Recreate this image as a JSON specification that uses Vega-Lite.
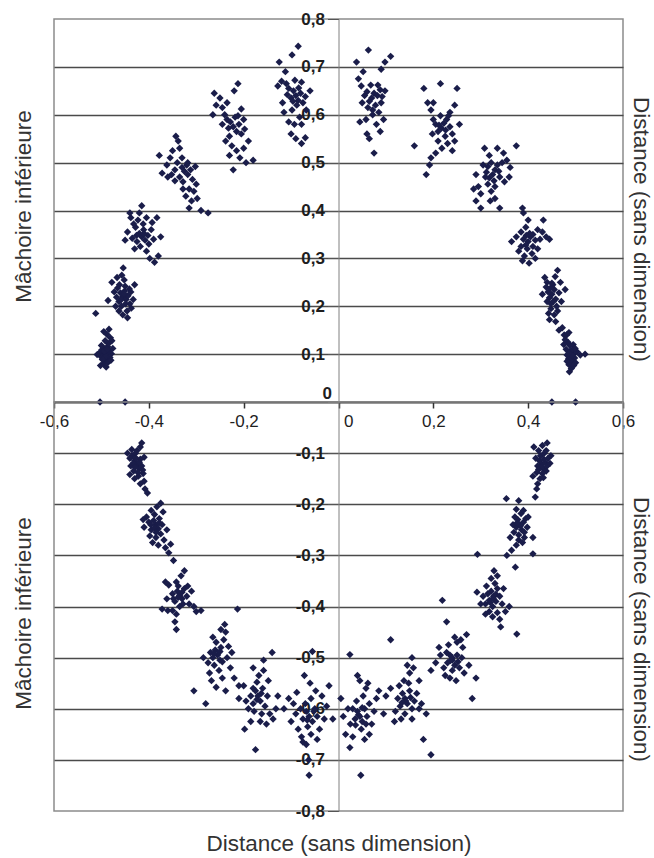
{
"$schema": "https://vega.github.io/schema/vega-lite/v6.json",
"background": "white",
"padding": {"left": 11, "top": 9, "right": 0, "bottom": 0},
"config": {
  "font": "Liberation Sans",
  "view": {"stroke": "#8c8c8c", "strokeWidth": 1.5},
  "axis": {"labelFont": "Liberation Sans", "titleFont": "Liberation Sans", "labelColor": "#1e1e1e", "titleColor": "#333333", "titleFontWeight": "normal", "titleFontSize": 22.5, "labelFontSize": 17, "labelFlush": false, "labelOverlap": false}
},
"datasets": {
"upper": [
{"x":-0.497,"y":0.100},{"x":-0.492,"y":0.104},{"x":-0.486,"y":0.098},{"x":-0.501,"y":0.095},{"x":-0.483,"y":0.108},{"x":-0.495,"y":0.112},{"x":-0.489,"y":0.091},{"x":-0.504,"y":0.103},{"x":-0.479,"y":0.101},{"x":-0.493,"y":0.086},{"x":-0.487,"y":0.116},{"x":-0.499,"y":0.109},{"x":-0.482,"y":0.093},{"x":-0.496,"y":0.080},{"x":-0.490,"y":0.073},{"x":-0.485,"y":0.122},{"x":-0.492,"y":0.128},{"x":-0.481,"y":0.134},{"x":-0.488,"y":0.141},{"x":-0.495,"y":0.147},{"x":-0.484,"y":0.152},{"x":-0.509,"y":0.099},{"x":-0.476,"y":0.112},{"x":-0.500,"y":0.118},{"x":-0.491,"y":0.095},{"x":-0.486,"y":0.083},{"x":-0.498,"y":0.089},{"x":-0.480,"y":0.087},{"x":-0.494,"y":0.106},{"x":-0.488,"y":0.110},{"x":-0.512,"y":0.185},{"x":-0.478,"y":0.128},{"x":-0.502,"y":0.076},
{"x":-0.455,"y":0.220},{"x":-0.460,"y":0.228},{"x":-0.448,"y":0.214},{"x":-0.463,"y":0.210},{"x":-0.451,"y":0.232},{"x":-0.444,"y":0.222},{"x":-0.458,"y":0.200},{"x":-0.468,"y":0.219},{"x":-0.450,"y":0.242},{"x":-0.440,"y":0.205},{"x":-0.462,"y":0.245},{"x":-0.473,"y":0.230},{"x":-0.446,"y":0.190},{"x":-0.455,"y":0.182},{"x":-0.437,"y":0.196},{"x":-0.452,"y":0.255},{"x":-0.457,"y":0.265},{"x":-0.454,"y":0.280},{"x":-0.478,"y":0.250},{"x":-0.470,"y":0.200},{"x":-0.433,"y":0.214},{"x":-0.441,"y":0.236},{"x":-0.466,"y":0.238},{"x":-0.449,"y":0.205},{"x":-0.459,"y":0.213},{"x":-0.445,"y":0.176},{"x":-0.430,"y":0.245},{"x":-0.486,"y":0.212},{"x":-0.463,"y":0.190},{"x":-0.452,"y":0.226},{"x":-0.438,"y":0.230},{"x":-0.467,"y":0.260},
{"x":-0.415,"y":0.345},{"x":-0.420,"y":0.352},{"x":-0.408,"y":0.338},{"x":-0.425,"y":0.335},{"x":-0.411,"y":0.360},{"x":-0.402,"y":0.348},{"x":-0.428,"y":0.365},{"x":-0.418,"y":0.325},{"x":-0.435,"y":0.342},{"x":-0.400,"y":0.330},{"x":-0.412,"y":0.372},{"x":-0.423,"y":0.380},{"x":-0.438,"y":0.385},{"x":-0.445,"y":0.355},{"x":-0.395,"y":0.360},{"x":-0.390,"y":0.340},{"x":-0.405,"y":0.315},{"x":-0.398,"y":0.300},{"x":-0.388,"y":0.292},{"x":-0.380,"y":0.305},{"x":-0.430,"y":0.320},{"x":-0.440,"y":0.395},{"x":-0.420,"y":0.395},{"x":-0.405,"y":0.385},{"x":-0.450,"y":0.338},{"x":-0.375,"y":0.345},{"x":-0.415,"y":0.410},{"x":-0.410,"y":0.352},{"x":-0.426,"y":0.348},{"x":-0.432,"y":0.372},{"x":-0.393,"y":0.375},{"x":-0.383,"y":0.385},
{"x":-0.325,"y":0.482},{"x":-0.330,"y":0.490},{"x":-0.318,"y":0.475},{"x":-0.335,"y":0.470},{"x":-0.320,"y":0.495},{"x":-0.312,"y":0.485},{"x":-0.340,"y":0.500},{"x":-0.328,"y":0.460},{"x":-0.345,"y":0.485},{"x":-0.308,"y":0.465},{"x":-0.355,"y":0.510},{"x":-0.350,"y":0.525},{"x":-0.335,"y":0.530},{"x":-0.362,"y":0.495},{"x":-0.372,"y":0.478},{"x":-0.360,"y":0.470},{"x":-0.315,"y":0.445},{"x":-0.305,"y":0.440},{"x":-0.298,"y":0.425},{"x":-0.310,"y":0.420},{"x":-0.322,"y":0.430},{"x":-0.300,"y":0.455},{"x":-0.290,"y":0.400},{"x":-0.315,"y":0.405},{"x":-0.275,"y":0.395},{"x":-0.338,"y":0.545},{"x":-0.343,"y":0.555},{"x":-0.378,"y":0.515},{"x":-0.330,"y":0.510},{"x":-0.318,"y":0.500},{"x":-0.302,"y":0.492},{"x":-0.345,"y":0.462},{"x":-0.328,"y":0.445},{"x":-0.352,"y":0.475},
{"x":-0.222,"y":0.575},{"x":-0.228,"y":0.585},{"x":-0.215,"y":0.565},{"x":-0.235,"y":0.590},{"x":-0.210,"y":0.580},{"x":-0.240,"y":0.600},{"x":-0.218,"y":0.595},{"x":-0.205,"y":0.560},{"x":-0.230,"y":0.555},{"x":-0.245,"y":0.615},{"x":-0.250,"y":0.635},{"x":-0.262,"y":0.645},{"x":-0.258,"y":0.620},{"x":-0.235,"y":0.625},{"x":-0.220,"y":0.650},{"x":-0.212,"y":0.665},{"x":-0.200,"y":0.590},{"x":-0.198,"y":0.570},{"x":-0.225,"y":0.535},{"x":-0.215,"y":0.525},{"x":-0.208,"y":0.510},{"x":-0.230,"y":0.515},{"x":-0.190,"y":0.545},{"x":-0.200,"y":0.530},{"x":-0.180,"y":0.505},{"x":-0.222,"y":0.485},{"x":-0.195,"y":0.500},{"x":-0.245,"y":0.580},{"x":-0.265,"y":0.600},{"x":-0.232,"y":0.572},{"x":-0.212,"y":0.598},{"x":-0.205,"y":0.612},{"x":-0.238,"y":0.545},
{"x":-0.090,"y":0.640},{"x":-0.095,"y":0.650},{"x":-0.085,"y":0.630},{"x":-0.100,"y":0.635},{"x":-0.080,"y":0.645},{"x":-0.105,"y":0.655},{"x":-0.088,"y":0.620},{"x":-0.075,"y":0.625},{"x":-0.098,"y":0.610},{"x":-0.110,"y":0.665},{"x":-0.120,"y":0.670},{"x":-0.128,"y":0.660},{"x":-0.092,"y":0.672},{"x":-0.078,"y":0.668},{"x":-0.070,"y":0.638},{"x":-0.068,"y":0.610},{"x":-0.082,"y":0.595},{"x":-0.093,"y":0.580},{"x":-0.078,"y":0.580},{"x":-0.105,"y":0.585},{"x":-0.115,"y":0.605},{"x":-0.118,"y":0.625},{"x":-0.100,"y":0.560},{"x":-0.090,"y":0.550},{"x":-0.078,"y":0.540},{"x":-0.070,"y":0.552},{"x":-0.112,"y":0.690},{"x":-0.125,"y":0.710},{"x":-0.098,"y":0.725},{"x":-0.085,"y":0.743},{"x":-0.060,"y":0.650},{"x":-0.084,"y":0.656},{"x":-0.096,"y":0.628},{"x":-0.108,"y":0.642},
{"x":0.070,"y":0.635},{"x":0.075,"y":0.645},{"x":0.065,"y":0.628},{"x":0.082,"y":0.640},{"x":0.060,"y":0.648},{"x":0.088,"y":0.652},{"x":0.055,"y":0.640},{"x":0.078,"y":0.620},{"x":0.062,"y":0.615},{"x":0.048,"y":0.660},{"x":0.042,"y":0.675},{"x":0.052,"y":0.690},{"x":0.068,"y":0.662},{"x":0.090,"y":0.625},{"x":0.098,"y":0.650},{"x":0.085,"y":0.605},{"x":0.072,"y":0.600},{"x":0.058,"y":0.590},{"x":0.045,"y":0.585},{"x":0.080,"y":0.580},{"x":0.095,"y":0.590},{"x":0.060,"y":0.560},{"x":0.065,"y":0.550},{"x":0.088,"y":0.565},{"x":0.075,"y":0.520},{"x":0.038,"y":0.710},{"x":0.090,"y":0.695},{"x":0.098,"y":0.710},{"x":0.110,"y":0.722},{"x":0.063,"y":0.735},{"x":0.050,"y":0.625},{"x":0.083,"y":0.662},{"x":0.072,"y":0.610},{"x":0.092,"y":0.638},
{"x":0.217,"y":0.572},{"x":0.222,"y":0.582},{"x":0.210,"y":0.565},{"x":0.228,"y":0.590},{"x":0.205,"y":0.580},{"x":0.235,"y":0.575},{"x":0.215,"y":0.598},{"x":0.225,"y":0.555},{"x":0.200,"y":0.590},{"x":0.240,"y":0.560},{"x":0.195,"y":0.610},{"x":0.188,"y":0.625},{"x":0.180,"y":0.655},{"x":0.215,"y":0.665},{"x":0.250,"y":0.655},{"x":0.245,"y":0.620},{"x":0.235,"y":0.605},{"x":0.255,"y":0.580},{"x":0.210,"y":0.545},{"x":0.218,"y":0.530},{"x":0.205,"y":0.520},{"x":0.195,"y":0.510},{"x":0.192,"y":0.495},{"x":0.185,"y":0.475},{"x":0.230,"y":0.540},{"x":0.245,"y":0.545},{"x":0.240,"y":0.525},{"x":0.160,"y":0.535},{"x":0.200,"y":0.625},{"x":0.212,"y":0.578},{"x":0.226,"y":0.568},{"x":0.198,"y":0.560},{"x":0.232,"y":0.598},
{"x":0.325,"y":0.475},{"x":0.330,"y":0.485},{"x":0.318,"y":0.468},{"x":0.335,"y":0.495},{"x":0.312,"y":0.480},{"x":0.340,"y":0.470},{"x":0.322,"y":0.500},{"x":0.315,"y":0.455},{"x":0.305,"y":0.495},{"x":0.345,"y":0.500},{"x":0.318,"y":0.515},{"x":0.308,"y":0.530},{"x":0.335,"y":0.530},{"x":0.348,"y":0.520},{"x":0.355,"y":0.505},{"x":0.362,"y":0.490},{"x":0.375,"y":0.535},{"x":0.330,"y":0.450},{"x":0.322,"y":0.440},{"x":0.330,"y":0.425},{"x":0.320,"y":0.420},{"x":0.340,"y":0.405},{"x":0.300,"y":0.435},{"x":0.295,"y":0.450},{"x":0.285,"y":0.445},{"x":0.300,"y":0.405},{"x":0.290,"y":0.420},{"x":0.350,"y":0.460},{"x":0.360,"y":0.470},{"x":0.310,"y":0.470},{"x":0.328,"y":0.462},{"x":0.338,"y":0.482},{"x":0.315,"y":0.492},{"x":0.290,"y":0.475},
{"x":0.400,"y":0.335},{"x":0.405,"y":0.345},{"x":0.395,"y":0.328},{"x":0.410,"y":0.350},{"x":0.390,"y":0.340},{"x":0.415,"y":0.338},{"x":0.398,"y":0.320},{"x":0.408,"y":0.310},{"x":0.392,"y":0.305},{"x":0.388,"y":0.295},{"x":0.402,"y":0.290},{"x":0.385,"y":0.355},{"x":0.395,"y":0.365},{"x":0.400,"y":0.380},{"x":0.390,"y":0.395},{"x":0.388,"y":0.405},{"x":0.420,"y":0.360},{"x":0.430,"y":0.355},{"x":0.438,"y":0.345},{"x":0.445,"y":0.340},{"x":0.432,"y":0.380},{"x":0.420,"y":0.320},{"x":0.380,"y":0.315},{"x":0.375,"y":0.345},{"x":0.365,"y":0.335},{"x":0.410,"y":0.325},{"x":0.403,"y":0.352},{"x":0.385,"y":0.325},{"x":0.415,"y":0.300},{"x":0.396,"y":0.348},{"x":0.425,"y":0.340},
{"x":0.450,"y":0.225},{"x":0.455,"y":0.235},{"x":0.445,"y":0.218},{"x":0.458,"y":0.215},{"x":0.442,"y":0.230},{"x":0.452,"y":0.245},{"x":0.448,"y":0.205},{"x":0.460,"y":0.200},{"x":0.440,"y":0.250},{"x":0.435,"y":0.260},{"x":0.438,"y":0.240},{"x":0.465,"y":0.228},{"x":0.470,"y":0.210},{"x":0.462,"y":0.190},{"x":0.455,"y":0.182},{"x":0.448,"y":0.195},{"x":0.445,"y":0.172},{"x":0.440,"y":0.210},{"x":0.430,"y":0.225},{"x":0.457,"y":0.262},{"x":0.462,"y":0.275},{"x":0.478,"y":0.235},{"x":0.453,"y":0.210},{"x":0.447,"y":0.238},{"x":0.468,"y":0.250},{"x":0.443,"y":0.185},{"x":0.458,"y":0.168},{"x":0.472,"y":0.155},{"x":0.476,"y":0.140},{"x":0.465,"y":0.150},{"x":0.450,"y":0.248},
{"x":0.490,"y":0.095},{"x":0.495,"y":0.100},{"x":0.485,"y":0.090},{"x":0.492,"y":0.085},{"x":0.498,"y":0.092},{"x":0.488,"y":0.105},{"x":0.482,"y":0.098},{"x":0.494,"y":0.110},{"x":0.486,"y":0.078},{"x":0.491,"y":0.070},{"x":0.500,"y":0.082},{"x":0.480,"y":0.110},{"x":0.488,"y":0.118},{"x":0.484,"y":0.125},{"x":0.478,"y":0.130},{"x":0.495,"y":0.120},{"x":0.503,"y":0.105},{"x":0.487,"y":0.063},{"x":0.510,"y":0.098},{"x":0.520,"y":0.100},{"x":0.475,"y":0.120},{"x":0.490,"y":0.088},{"x":0.496,"y":0.076},{"x":0.482,"y":0.085},{"x":0.493,"y":0.097},{"x":0.486,"y":0.102},{"x":0.499,"y":0.112},{"x":0.481,"y":0.140},{"x":0.486,"y":0.145},
{"x":-0.503,"y":0},{"x":-0.450,"y":0},{"x":0.450,"y":0},{"x":0.500,"y":0}
],
"lower": [
{"x":-0.425,"y":-0.123},{"x":-0.430,"y":-0.115},{"x":-0.420,"y":-0.130},{"x":-0.435,"y":-0.105},{"x":-0.428,"y":-0.100},{"x":-0.440,"y":-0.110},{"x":-0.418,"y":-0.112},{"x":-0.432,"y":-0.135},{"x":-0.422,"y":-0.145},{"x":-0.415,"y":-0.125},{"x":-0.412,"y":-0.140},{"x":-0.438,"y":-0.125},{"x":-0.445,"y":-0.100},{"x":-0.425,"y":-0.095},{"x":-0.418,"y":-0.088},{"x":-0.415,"y":-0.080},{"x":-0.410,"y":-0.155},{"x":-0.418,"y":-0.160},{"x":-0.408,"y":-0.170},{"x":-0.403,"y":-0.178},{"x":-0.430,"y":-0.150},{"x":-0.440,"y":-0.142},{"x":-0.427,"y":-0.110},{"x":-0.420,"y":-0.118},{"x":-0.433,"y":-0.120},{"x":-0.410,"y":-0.108},{"x":-0.436,"y":-0.093},{"x":-0.423,"y":-0.138},{"x":-0.413,"y":-0.133},{"x":-0.429,"y":-0.128},
{"x":-0.385,"y":-0.240},{"x":-0.390,"y":-0.232},{"x":-0.380,"y":-0.248},{"x":-0.395,"y":-0.250},{"x":-0.378,"y":-0.228},{"x":-0.400,"y":-0.235},{"x":-0.388,"y":-0.220},{"x":-0.372,"y":-0.240},{"x":-0.405,"y":-0.225},{"x":-0.398,"y":-0.262},{"x":-0.385,"y":-0.265},{"x":-0.375,"y":-0.258},{"x":-0.392,"y":-0.275},{"x":-0.380,"y":-0.280},{"x":-0.368,"y":-0.270},{"x":-0.410,"y":-0.245},{"x":-0.395,"y":-0.212},{"x":-0.383,"y":-0.205},{"x":-0.370,"y":-0.215},{"x":-0.362,"y":-0.250},{"x":-0.365,"y":-0.285},{"x":-0.358,"y":-0.295},{"x":-0.348,"y":-0.310},{"x":-0.375,"y":-0.198},{"x":-0.412,"y":-0.230},{"x":-0.388,"y":-0.246},{"x":-0.378,"y":-0.236},{"x":-0.396,"y":-0.240},{"x":-0.354,"y":-0.278},{"x":-0.385,"y":-0.255},
{"x":-0.335,"y":-0.378},{"x":-0.340,"y":-0.370},{"x":-0.330,"y":-0.385},{"x":-0.345,"y":-0.390},{"x":-0.325,"y":-0.365},{"x":-0.338,"y":-0.360},{"x":-0.350,"y":-0.375},{"x":-0.328,"y":-0.395},{"x":-0.320,"y":-0.380},{"x":-0.342,"y":-0.352},{"x":-0.332,"y":-0.340},{"x":-0.325,"y":-0.330},{"x":-0.358,"y":-0.358},{"x":-0.365,"y":-0.352},{"x":-0.362,"y":-0.385},{"x":-0.372,"y":-0.405},{"x":-0.360,"y":-0.408},{"x":-0.350,"y":-0.408},{"x":-0.342,"y":-0.415},{"x":-0.345,"y":-0.430},{"x":-0.342,"y":-0.445},{"x":-0.315,"y":-0.395},{"x":-0.310,"y":-0.370},{"x":-0.305,"y":-0.400},{"x":-0.300,"y":-0.410},{"x":-0.290,"y":-0.408},{"x":-0.318,"y":-0.360},{"x":-0.335,"y":-0.400},{"x":-0.348,"y":-0.385},{"x":-0.213,"y":-0.405},{"x":-0.330,"y":-0.372},{"x":-0.338,"y":-0.382},
{"x":-0.255,"y":-0.495},{"x":-0.260,"y":-0.485},{"x":-0.250,"y":-0.505},{"x":-0.265,"y":-0.500},{"x":-0.248,"y":-0.480},{"x":-0.258,"y":-0.470},{"x":-0.242,"y":-0.465},{"x":-0.262,"y":-0.515},{"x":-0.270,"y":-0.490},{"x":-0.252,"y":-0.525},{"x":-0.245,"y":-0.540},{"x":-0.238,"y":-0.450},{"x":-0.248,"y":-0.445},{"x":-0.240,"y":-0.435},{"x":-0.275,"y":-0.510},{"x":-0.272,"y":-0.530},{"x":-0.268,"y":-0.545},{"x":-0.235,"y":-0.500},{"x":-0.228,"y":-0.520},{"x":-0.225,"y":-0.490},{"x":-0.220,"y":-0.540},{"x":-0.210,"y":-0.555},{"x":-0.285,"y":-0.500},{"x":-0.305,"y":-0.565},{"x":-0.280,"y":-0.590},{"x":-0.258,"y":-0.558},{"x":-0.238,"y":-0.565},{"x":-0.262,"y":-0.492},{"x":-0.250,"y":-0.488},{"x":-0.245,"y":-0.508},{"x":-0.232,"y":-0.478},{"x":-0.265,"y":-0.460},
{"x":-0.170,"y":-0.575},{"x":-0.175,"y":-0.565},{"x":-0.165,"y":-0.585},{"x":-0.180,"y":-0.590},{"x":-0.160,"y":-0.560},{"x":-0.172,"y":-0.548},{"x":-0.185,"y":-0.575},{"x":-0.155,"y":-0.595},{"x":-0.178,"y":-0.605},{"x":-0.162,"y":-0.610},{"x":-0.190,"y":-0.600},{"x":-0.195,"y":-0.585},{"x":-0.200,"y":-0.555},{"x":-0.168,"y":-0.535},{"x":-0.158,"y":-0.525},{"x":-0.150,"y":-0.575},{"x":-0.145,"y":-0.610},{"x":-0.138,"y":-0.620},{"x":-0.152,"y":-0.630},{"x":-0.165,"y":-0.625},{"x":-0.185,"y":-0.625},{"x":-0.198,"y":-0.640},{"x":-0.175,"y":-0.680},{"x":-0.132,"y":-0.600},{"x":-0.128,"y":-0.575},{"x":-0.180,"y":-0.520},{"x":-0.148,"y":-0.545},{"x":-0.140,"y":-0.490},{"x":-0.158,"y":-0.505},{"x":-0.210,"y":-0.580},{"x":-0.172,"y":-0.582},{"x":-0.163,"y":-0.570},{"x":-0.180,"y":-0.560},
{"x":-0.062,"y":-0.615},{"x":-0.068,"y":-0.605},{"x":-0.055,"y":-0.625},{"x":-0.075,"y":-0.620},{"x":-0.050,"y":-0.600},{"x":-0.065,"y":-0.635},{"x":-0.080,"y":-0.600},{"x":-0.045,"y":-0.615},{"x":-0.070,"y":-0.590},{"x":-0.058,"y":-0.580},{"x":-0.090,"y":-0.610},{"x":-0.095,"y":-0.590},{"x":-0.100,"y":-0.625},{"x":-0.085,"y":-0.640},{"x":-0.040,"y":-0.640},{"x":-0.030,"y":-0.620},{"x":-0.025,"y":-0.595},{"x":-0.035,"y":-0.575},{"x":-0.048,"y":-0.565},{"x":-0.060,"y":-0.550},{"x":-0.072,"y":-0.535},{"x":-0.105,"y":-0.580},{"x":-0.115,"y":-0.600},{"x":-0.078,"y":-0.655},{"x":-0.058,"y":-0.650},{"x":-0.045,"y":-0.660},{"x":-0.068,"y":-0.670},{"x":-0.075,"y":-0.665},{"x":-0.063,"y":-0.700},{"x":-0.062,"y":-0.730},{"x":-0.055,"y":-0.488},{"x":-0.012,"y":-0.620},{"x":-0.020,"y":-0.555},{"x":-0.088,"y":-0.568},{"x":-0.052,"y":-0.605},{"x":-0.066,"y":-0.622},
{"x":0.045,"y":-0.615},{"x":0.040,"y":-0.605},{"x":0.050,"y":-0.625},{"x":0.035,"y":-0.620},{"x":0.055,"y":-0.600},{"x":0.030,"y":-0.600},{"x":0.048,"y":-0.640},{"x":0.060,"y":-0.615},{"x":0.025,"y":-0.630},{"x":0.038,"y":-0.585},{"x":0.052,"y":-0.575},{"x":0.065,"y":-0.590},{"x":0.070,"y":-0.630},{"x":0.075,"y":-0.605},{"x":0.080,"y":-0.580},{"x":0.058,"y":-0.560},{"x":0.045,"y":-0.545},{"x":0.062,"y":-0.550},{"x":0.040,"y":-0.535},{"x":0.020,"y":-0.600},{"x":0.010,"y":-0.615},{"x":0.005,"y":-0.580},{"x":0.015,"y":-0.650},{"x":0.030,"y":-0.655},{"x":0.055,"y":-0.660},{"x":0.065,"y":-0.650},{"x":0.024,"y":-0.676},{"x":0.047,"y":-0.730},{"x":0.024,"y":-0.494},{"x":0.085,"y":-0.565},{"x":0.042,"y":-0.612},{"x":0.050,"y":-0.598},{"x":0.036,"y":-0.632},{"x":0.058,"y":-0.630},
{"x":0.140,"y":-0.580},{"x":0.135,"y":-0.570},{"x":0.145,"y":-0.590},{"x":0.130,"y":-0.595},{"x":0.150,"y":-0.565},{"x":0.125,"y":-0.580},{"x":0.155,"y":-0.600},{"x":0.140,"y":-0.610},{"x":0.120,"y":-0.605},{"x":0.160,"y":-0.585},{"x":0.165,"y":-0.570},{"x":0.170,"y":-0.600},{"x":0.175,"y":-0.590},{"x":0.148,"y":-0.550},{"x":0.138,"y":-0.545},{"x":0.128,"y":-0.555},{"x":0.110,"y":-0.560},{"x":0.100,"y":-0.575},{"x":0.118,"y":-0.625},{"x":0.132,"y":-0.620},{"x":0.155,"y":-0.620},{"x":0.150,"y":-0.530},{"x":0.145,"y":-0.515},{"x":0.155,"y":-0.500},{"x":0.110,"y":-0.465},{"x":0.158,"y":-0.520},{"x":0.170,"y":-0.545},{"x":0.179,"y":-0.660},{"x":0.195,"y":-0.690},{"x":0.185,"y":-0.610},{"x":0.095,"y":-0.610},{"x":0.142,"y":-0.585},{"x":0.134,"y":-0.588},{"x":0.152,"y":-0.578},
{"x":0.240,"y":-0.505},{"x":0.235,"y":-0.495},{"x":0.245,"y":-0.515},{"x":0.230,"y":-0.510},{"x":0.250,"y":-0.495},{"x":0.228,"y":-0.490},{"x":0.255,"y":-0.520},{"x":0.240,"y":-0.525},{"x":0.222,"y":-0.520},{"x":0.260,"y":-0.500},{"x":0.262,"y":-0.480},{"x":0.250,"y":-0.470},{"x":0.258,"y":-0.465},{"x":0.245,"y":-0.460},{"x":0.232,"y":-0.475},{"x":0.215,"y":-0.495},{"x":0.205,"y":-0.510},{"x":0.212,"y":-0.480},{"x":0.225,"y":-0.535},{"x":0.235,"y":-0.540},{"x":0.248,"y":-0.545},{"x":0.265,"y":-0.530},{"x":0.275,"y":-0.515},{"x":0.282,"y":-0.580},{"x":0.290,"y":-0.540},{"x":0.195,"y":-0.525},{"x":0.270,"y":-0.455},{"x":0.240,"y":-0.500},{"x":0.236,"y":-0.506},{"x":0.252,"y":-0.508},{"x":0.228,"y":-0.430},
{"x":0.327,"y":-0.380},{"x":0.322,"y":-0.370},{"x":0.332,"y":-0.390},{"x":0.318,"y":-0.388},{"x":0.335,"y":-0.365},{"x":0.315,"y":-0.375},{"x":0.340,"y":-0.380},{"x":0.325,"y":-0.400},{"x":0.310,"y":-0.395},{"x":0.345,"y":-0.395},{"x":0.330,"y":-0.355},{"x":0.322,"y":-0.345},{"x":0.335,"y":-0.340},{"x":0.328,"y":-0.330},{"x":0.312,"y":-0.360},{"x":0.305,"y":-0.380},{"x":0.300,"y":-0.395},{"x":0.318,"y":-0.410},{"x":0.335,"y":-0.412},{"x":0.348,"y":-0.365},{"x":0.352,"y":-0.410},{"x":0.340,"y":-0.425},{"x":0.325,"y":-0.420},{"x":0.310,"y":-0.415},{"x":0.292,"y":-0.372},{"x":0.360,"y":-0.400},{"x":0.376,"y":-0.454},{"x":0.293,"y":-0.298},{"x":0.219,"y":-0.388},{"x":0.342,"y":-0.440},{"x":0.326,"y":-0.384},{"x":0.332,"y":-0.376},{"x":0.320,"y":-0.392},
{"x":0.382,"y":-0.240},{"x":0.378,"y":-0.230},{"x":0.386,"y":-0.250},{"x":0.375,"y":-0.245},{"x":0.390,"y":-0.235},{"x":0.372,"y":-0.225},{"x":0.392,"y":-0.255},{"x":0.380,"y":-0.260},{"x":0.370,"y":-0.255},{"x":0.395,"y":-0.228},{"x":0.385,"y":-0.218},{"x":0.375,"y":-0.210},{"x":0.390,"y":-0.212},{"x":0.400,"y":-0.225},{"x":0.380,"y":-0.270},{"x":0.388,"y":-0.275},{"x":0.375,"y":-0.280},{"x":0.392,"y":-0.265},{"x":0.368,"y":-0.240},{"x":0.362,"y":-0.265},{"x":0.354,"y":-0.189},{"x":0.380,"y":-0.193},{"x":0.373,"y":-0.323},{"x":0.410,"y":-0.297},{"x":0.410,"y":-0.265},{"x":0.398,"y":-0.245},{"x":0.384,"y":-0.242},{"x":0.377,"y":-0.236},{"x":0.365,"y":-0.290},{"x":0.355,"y":-0.300},
{"x":0.428,"y":-0.122},{"x":0.424,"y":-0.115},{"x":0.432,"y":-0.130},{"x":0.420,"y":-0.125},{"x":0.436,"y":-0.118},{"x":0.426,"y":-0.105},{"x":0.438,"y":-0.135},{"x":0.430,"y":-0.140},{"x":0.418,"y":-0.138},{"x":0.442,"y":-0.110},{"x":0.434,"y":-0.100},{"x":0.422,"y":-0.095},{"x":0.416,"y":-0.110},{"x":0.440,"y":-0.125},{"x":0.446,"y":-0.120},{"x":0.425,"y":-0.150},{"x":0.420,"y":-0.160},{"x":0.432,"y":-0.148},{"x":0.412,"y":-0.088},{"x":0.430,"y":-0.085},{"x":0.440,"y":-0.080},{"x":0.418,"y":-0.170},{"x":0.415,"y":-0.186},{"x":0.410,"y":-0.145},{"x":0.448,"y":-0.105},{"x":0.427,"y":-0.128},{"x":0.433,"y":-0.112},{"x":0.422,"y":-0.132},{"x":0.438,"y":-0.095}
]
},
"spacing": 0,
"bounds": "flush",
"vconcat": [
{
  "width": 569,
  "height": 383,
  "layer": [
    {
      "data": {"name": "upper"},
      "mark": {"type": "point", "shape": "diamond", "filled": true, "size": 54, "color": "#1a1d4a", "opacity": 1},
      "encoding": {
        "x": {"field": "x", "type": "quantitative", "scale": {"domain": [-0.6, 0.6], "nice": false, "zero": false},
          "axis": {"orient": "bottom", "values": [-0.6, -0.4, -0.2, 0, 0.2, 0.4, 0.6], "grid": false, "title": null,
            "domainColor": "#333333", "domainWidth": 2, "tickColor": "#333333", "tickWidth": 1.5, "tickSize": 6, "labelPadding": 5,
            "labelExpr": "datum.value == 0 ? '0' : replace(replace(format(datum.value, '.1f'), '.', ','), '−', '-')",
            "labelAlign": {"condition": {"test": "datum.value == 0", "value": "left"}, "value": "center"},
            "labelOffset": {"condition": {"test": "datum.value == 0", "value": 5}, "value": 0}}},
        "y": {"field": "y", "type": "quantitative", "scale": {"domain": [0, 0.8], "nice": false, "zero": false},
          "axis": {"orient": "left", "offset": -284.5, "values": [0, 0.1, 0.2, 0.3, 0.4, 0.5, 0.6, 0.7, 0.8], "grid": false,
            "domainColor": "#808080", "domainWidth": 1, "tickSize": 11, "tickColor": "#555555", "tickWidth": 1,
            "labelFontWeight": "bold",
            "labelExpr": "datum.value == 0 ? '0' : replace(replace(format(datum.value, '.1f'), '.', ','), '−', '-')",
            "labelBaseline": {"condition": {"test": "datum.value == 0", "value": "bottom"}, "value": "middle"},
            "labelPadding": {"condition": {"test": "datum.value == 0", "value": -4}, "value": 3},
            "title": "Mâchoire inférieure", "titleX": -303, "titleY": 187}}
      }
    },
    {
      "data": {"name": "upper"},
      "mark": {"type": "point", "opacity": 0},
      "encoding": {
        "y": {"field": "y", "type": "quantitative", "scale": {"domain": [0, 0.8], "nice": false, "zero": false},
          "axis": {"orient": "right", "values": [0.1, 0.2, 0.3, 0.4, 0.5, 0.6, 0.7], "grid": true, "gridColor": "#4a4a4a", "gridWidth": 1.7,
            "labels": false, "ticks": false, "domain": false,
            "title": "Distance (sans dimension)", "titlePadding": 5, "titleY": 210}}
      }
    }
  ],
  "resolve": {"scale": {"y": "independent"}}
},
{
  "width": 569,
  "height": 409,
  "layer": [
    {
      "data": {"name": "lower"},
      "mark": {"type": "point", "shape": "diamond", "filled": true, "size": 54, "color": "#1a1d4a", "opacity": 1},
      "encoding": {
        "x": {"field": "x", "type": "quantitative", "scale": {"domain": [-0.6, 0.6], "nice": false, "zero": false},
          "axis": {"orient": "bottom", "labels": false, "ticks": false, "domain": false, "grid": false,
            "title": "Distance (sans dimension)", "titlePadding": 21}},
        "y": {"field": "y", "type": "quantitative", "scale": {"domain": [-0.8, 0], "nice": false, "zero": false},
          "axis": {"orient": "left", "offset": -284.5, "values": [-0.1, -0.2, -0.3, -0.4, -0.5, -0.6, -0.7, -0.8], "grid": false,
            "domainColor": "#808080", "domainWidth": 1, "tickSize": 11, "tickColor": "#555555", "tickWidth": 1, "labelPadding": 3,
            "labelFontWeight": "bold",
            "labelExpr": "replace(replace(format(datum.value, '.1f'), '.', ','), '−', '-')",
            "title": "Mâchoire inférieure", "titleX": -303, "titleY": 211}}
      }
    },
    {
      "data": {"name": "lower"},
      "mark": {"type": "point", "opacity": 0},
      "encoding": {
        "y": {"field": "y", "type": "quantitative", "scale": {"domain": [-0.8, 0], "nice": false, "zero": false},
          "axis": {"orient": "right", "values": [-0.1, -0.2, -0.3, -0.4, -0.5, -0.6, -0.7], "grid": true, "gridColor": "#4a4a4a", "gridWidth": 1.7,
            "labels": false, "ticks": false, "domain": false,
            "title": "Distance (sans dimension)", "titlePadding": 5, "titleY": 227}}
      }
    }
  ],
  "resolve": {"scale": {"y": "independent"}}
}
]
}
